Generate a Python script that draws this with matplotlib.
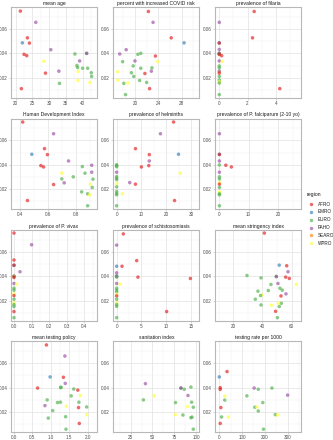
import matplotlib
matplotlib.use("Agg")
import matplotlib.pyplot as plt
from matplotlib.lines import Line2D
from matplotlib.ticker import FixedLocator, NullFormatter
import numpy as np

plt.rcParams["font.family"] = ["Liberation Sans", "DejaVu Sans"]

# region codes -> names and colours (Set1)
region_names = ["AFRO", "EMRO", "EURO", "PAHO", "SEARO", "WPRO"]
region_codes = ["A", "E", "U", "P", "S", "W"]
region_colors = ["#E41A1C", "#377EB8", "#4DAF4A", "#984EA3", "#FF7F00", "#FFFF33"]

# mean age
age_x = [21.4, 26.0, 23.5, 22.0, 24.1, 30.5, 37.7, 41.2, 41.2, 22.5, 23.3, 39.1, 28.4,
         38.3, 38.5, 40.0, 41.5, 38.7, 32.9, 28.9, 42.6, 42.7, 38.6, 42.2, 33.1, 21.7]
age_y = [.0746, .0654, .0527, .0486, .0484, .0430, .0395, .0400, .0400, .0392, .0381, .0338, .0335,
         .0300, .0284, .0278, .0278, .0251, .0254, .0238, .0241, .0211, .0178, .0162, .0154, .0111]
age_r = "APAEAPUUPAAPWUUUUWPAUUWWUA"

# percent with increased COVID risk
risk_x = [22.3, 23.1, 26.2, 28.4, 18.5, 17.4, 20.5, 21.0, 23.5, 20.0, 23.9, 17.9, 19.7, 21.0,
          22.9, 22.8, 19.4, 17.0, 21.7, 19.8, 17.1, 20.8, 22.0, 18.8, 18.1, 22.5, 18.4]
risk_y = [.0743, .0654, .0527, .0486, .0430, .0395, .0392, .0400, .0378, .0338, .0332, .0332, .0297, .0278,
          .0281, .0254, .0241, .0249, .0235, .0211, .0181, .0178, .0162, .0157, .0154, .0111, .0062]
risk_r = "APAEPPUUAPWUUUUPUWAUWUUWUAU"

# prevalence of filaria
fil_x = [2.47, 0, 2.35, 0, 0, 0, 0, 0, 0, 0, 0.17, 0, 0.21, 0, 0, 0, 0, 0, 0, 0, 0, 0, 4.28, 0]
fil_y = [.0743, .0654, .0527, .0486, .0484, .0432, .0400, .0400, .0395, .0392, .0381, .0338, .0333, .0297,
         .0281, .0249, .0254, .0238, .0211, .0181, .0167, .0157, .0111, .0062]
fil_r = "APAEAPUPUAAPWUUWPAUUWUAU"

# Human Development Index
hdi_x = [0.419, 0.640, 0.575, 0.484, 0.596, 0.747, 0.846, 0.913, 0.549, 0.568, 0.699, 0.913, 0.865,
         0.781, 0.699, 0.922, 0.716, 0.640, 0.903, 0.917, 0.841, 0.884, 0.898, 0.453, 0.884]
hdi_y = [.0750, .0654, .0532, .0486, .0483, .0431, .0385, .0396, .0393, .0382, .0331, .0339, .0331,
         .0301, .0284, .0282, .0252, .0238, .0241, .0214, .0178, .0162, .0154, .0107, .0064]
hdi_r = "APAEAPUPAAWPUUUUPAWUUUWAU"

# prevalence of helminths
helm_x = [23.0, 17.7, 7.6, 25.0, 13.2, 13.2, 10.0, 13.0, 25.7, 0, 0, 0, 0, 0, 0, 0, 0, 0, 0, 0, 0, 0,
          5.3, 7.6, 2.4, 23.4]
helm_y = [.0750, .0654, .0532, .0486, .0483, .0431, .0382, .0393, .0331, .0400, .0392, .0384, .0339,
          .0303, .0290, .0279, .0246, .0219, .0181, .0165, .0154, .0064, .0254, .0241, .0162, .0107]
helm_r = "APAEAPAAWUUUPUUUWUUUUUPAWA"

# prevalence of P. falciparum (2-10 yo)
falc_x = [0, 0, 0, 0, 0, 2.2, 4.1, 0, 0, 0, 0, 0, 0, 0, 0, 0, 0]
falc_y = [.0654, .0486, .0484, .0431, .0398, .0396, .0382, .0339, .0301, .0284, .0252, .0241, .0214,
          .0178, .0162, .0154, .0064]
falc_r = "PEAPUAAPUUWAUWUUU"

# prevalence of P. vivax
viv_x = [0, 0.10, 0, 0, 0, 0.034, 0, 0, 0, 0, 0.015, 0, 0, 0, 0, 0, 0, 0, 0, 0, 0]
viv_y = [.0753, .0657, .0532, .0488, .0490, .0436, .0400, .0398, .0389, .0340, .0334, .0301, .0285,
         .0255, .0241, .0211, .0181, .0167, .0151, .0110, .0060]
viv_r = "APAEAPAUAPWUUWAUWUUAU"

# prevalence of schistosomiasis
sch_x = [1.35, 0, 4.05, 0, 1.08, 0, 0, 0, 0, 4.3, 14.9, 0, 0.68, 0, 0, 0, 0, 0, 0, 0, 0, 0, 10.1, 0]
sch_y = [.0746, .0654, .0527, .0481, .0481, .0427, .0400, .0400, .0392, .0392, .0381, .0340, .0334,
         .0301, .0285, .0271, .0252, .0238, .0211, .0181, .0167, .0153, .0110, .0060]
sch_r = "APAEAPUPUAAPWUUUWAUWUUAU"

# mean stringency index
str_x = [41.3, 51.5, 56.6, 57.5, 29.4, 39.0, 49.5, 49.5, 55.9, 58.4, 50.6, 45.8, 63.2, 52.0, 53.6,
         44.0, 36.9, 39.7, 38.7, 56.1, 52.7, 35.1, 52.9, 50.9, 46.1, 39.0, 51.5, 49.0, 50.2]
str_y = [.0753, .0490, .0485, .0436, .0405, .0386, .0397, .0397, .0392, .0381, .0340, .0332, .0332,
         .0301, .0285, .0282, .0277, .0247, .0241, .0255, .0238, .0211, .0178, .0178, .0162, .0164,
         .0151, .0112, .0060]
str_r = "AEAPUUUPAAPUWUUUUWUPAUUWWUUAU"

# mean testing policy
pol_x = [0.88, 1.38, 0.98, 1.34, 1.39, 1.27, 1.27, 0.64, 1.62, 1.73, 1.55, 1.80, 0.90, 1.76, 1.18,
         1.26, 0.84, 1.42, 1.75, 1.97, 1.05, 1.97, 0.93, 1.40, 1.77, 1.41]
pol_y = [.0749, .0658, .0487, .0484, .0434, .0399, .0403, .0396, .0388, .0379, .0332, .0335, .0299,
         .0280, .0277, .0280, .0252, .0247, .0236, .0241, .0211, .0178, .0150, .0161, .0106, .0059]
pol_r = "APEAPUUAUAUWUUUUPWAUUWUUAU"

# sanitation index
san_x = [41.9, 82.7, 82.7, 86.5, 94.2, 90.8, 51.9, 39.6, 76.5, 95.0, 96.9, 90.0, 76.2, 85.0, 94.2,
         95.4, 96.9]
san_y = [.0432, .0396, .0396, .0386, .0404, .0335, .0332, .0299, .0277, .0280, .0239, .0244, .0178,
         .0175, .0153, .0158, .0059]
san_r = "PUPUUPWUUUUWWUUUU"

# testing rate per 1000
rate_x = [34, 0, 4, 4, 153, 231, 171, 24, 121, 24, 300, 191, 7, 156, 165, 171, 246, 256, 40, 10, 4, 194]
rate_y = [.0531, .0487, .0399, .0385, .0396, .0396, .0386, .0330, .0332, .0297, .0338, .0277, .0236,
          .0239, .0241, .0208, .0178, .0175, .0159, .0159, .0106, .0059]
rate_r = "AEAAPUUWUUPUAUWUUWWUAU"

panels = [
    ("mean age", age_x, age_y, age_r, (18.6, 44.3), [20, 25, 30, 35, 40]),
    ("percent with increased COVID risk", risk_x, risk_y, risk_r, (16.3, 31.0), [20, 24, 28]),
    ("prevalence of filaria", fil_x, fil_y, fil_r, (-0.28, 5.8), [0, 2, 4]),
    ("Human Development Index", hdi_x, hdi_y, hdi_r, (0.335, 0.951), [0.4, 0.6, 0.8]),
    ("prevalence of helminths", helm_x, helm_y, helm_r, (-1.35, 33.4), [0, 10, 20, 30]),
    ("prevalence of P. falciparum (2-10 yo)", falc_x, falc_y, falc_r, (-1.4, 28.0), [0, 10, 20]),
    ("prevalence of P. vivax", viv_x, viv_y, viv_r, (-0.017, 0.472), [0.0, 0.1, 0.2, 0.3, 0.4]),
    ("prevalence of schistosomiasis", sch_x, sch_y, sch_r, (-0.68, 16.7), [0, 5, 10, 15]),
    ("mean stringency index", str_x, str_y, str_r, (7.7, 66.6), [20, 40, 60]),
    ("mean testing policy", pol_x, pol_y, pol_r, (-0.08, 2.25), [0.0, 0.5, 1.0, 1.5, 2.0]),
    ("sanitation index", san_x, san_y, san_r, (5.0, 103.8), [25, 50, 75, 100]),
    ("testing rate per 1000", rate_x, rate_y, rate_r, (-17.6, 360), [0, 100, 200, 300]),
]

W, H = 333, 440
fig = plt.figure(figsize=(W / 100, H / 100), dpi=100)

col_left = [11, 113.3, 215.3]
row_top = [7.2, 118.6, 230.0, 341.4]
pw, ph = 86, 90.6
yticks = [0.02, 0.04, 0.06]
fs = 3.3

color_of = dict(zip(region_codes, region_colors))

for i, (title, xs, ys, regs, xlim, xticks) in enumerate(panels):
    r, c = divmod(i, 3)
    ax = fig.add_axes([col_left[c] / W, 1 - (row_top[r] + ph) / H, pw / W, ph / H])
    cols = [color_of[k] for k in regs]
    ax.scatter(xs, ys, s=6.5, c=cols, alpha=0.65, linewidths=0, zorder=3)
    ax.set_xlim(xlim)
    ax.set_ylim(0.0036, 0.0778)

    ax.xaxis.set_major_locator(FixedLocator(xticks))
    ax.yaxis.set_major_locator(FixedLocator(yticks))
    step = xticks[1] - xticks[0]
    xminor = np.arange(xticks[0] - step / 2, xlim[1], step)
    ax.xaxis.set_minor_locator(FixedLocator(xminor))
    ax.yaxis.set_minor_locator(FixedLocator([0.01, 0.03, 0.05, 0.07]))
    ax.xaxis.set_minor_formatter(NullFormatter())
    if step < 1:
        ax.set_xticklabels([f"{t:.1f}" for t in xticks])
    else:
        ax.set_xticklabels([f"{t:g}" for t in xticks])
    ax.set_yticklabels(["0.02", "0.04", "0.06"])

    ax.grid(which="major", color="#E2E2E2", linewidth=0.5)
    ax.grid(which="minor", color="#F0F0F0", linewidth=0.35)
    ax.set_axisbelow(True)

    ax.tick_params(which="major", length=1.4, width=0.4, color="#B3B3B3", pad=0.8,
                   labelsize=fs, labelcolor="#4D4D4D")
    ax.tick_params(which="minor", length=0)
    for sp in ax.spines.values():
        sp.set_color("#B8B8B8")
        sp.set_linewidth(0.8)
    ax.set_title(title, fontsize=3.6, color="#1A1A1A", pad=1.8)

# legend
fig.text(306.5 / W, 1 - 194 / H, "region", fontsize=3.7, color="#1A1A1A", va="center", ha="left")
for j, name in enumerate(region_names):
    yy = 1 - (204 + j * 7.85) / H
    fig.add_artist(Line2D([310.7 / W], [yy], marker="o", markersize=2.5, markeredgewidth=0,
                          color=region_colors[j], alpha=0.65, transform=fig.transFigure))
    fig.text(317.5 / W, yy, name, fontsize=3.3, color="#1A1A1A", va="center", ha="left")

fig.savefig("out.png", dpi=100)
